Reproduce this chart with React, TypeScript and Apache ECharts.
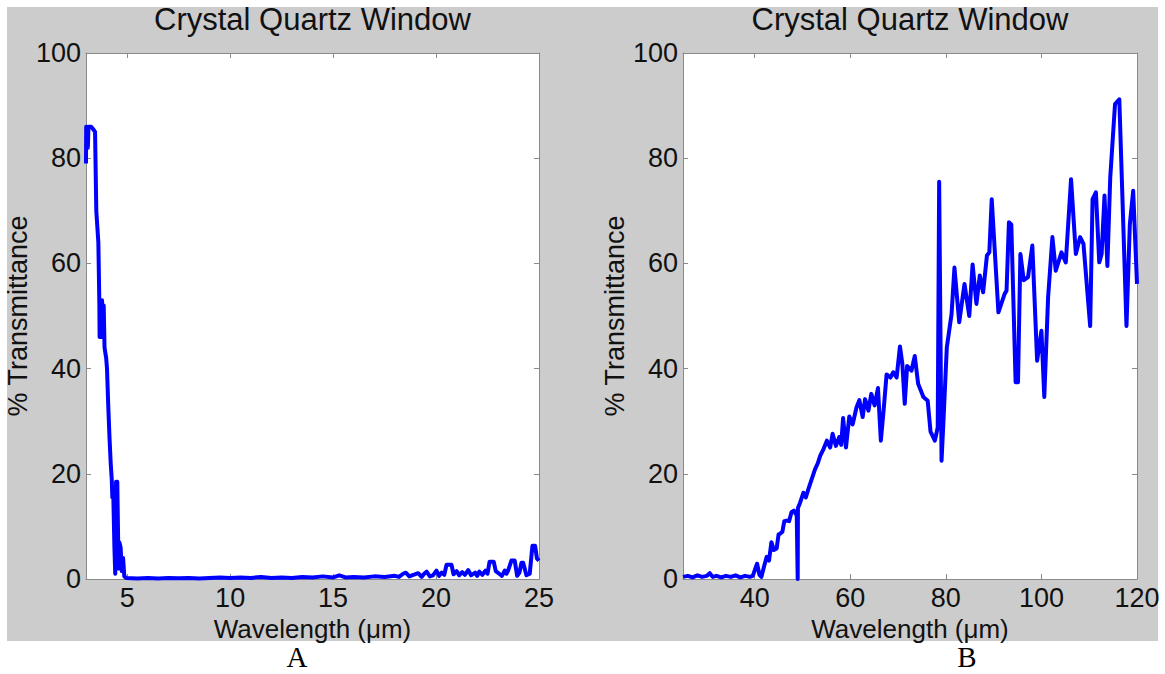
import React, { useEffect, useRef } from "react";
import * as echarts from "echarts";

// ---------- Data ----------
const panelTitles = ["Crystal Quartz Window", "Crystal Quartz Window"];
const panelLetters = ["A", "B"];
const xAxisName = "Wavelength (\u03bcm)";
const yAxisName = "% Transmittance";

const xTicksA = [5, 10, 15, 20, 25];
const xTicksB = [40, 60, 80, 100, 120];
const yTicks = [0, 20, 40, 60, 80, 100];

// Panel A: wavelength (µm) and % transmittance
const aWave = [
  3.0, 3.01, 3.06, 3.09, 3.12, 3.25, 3.35, 3.44, 3.5, 3.55, 3.6, 3.65, 3.66, 3.7, 3.74, 3.78, 3.82, 3.86,
  3.9, 3.94, 3.98, 4.02, 4.08, 4.14, 4.2, 4.25, 4.28, 4.32, 4.38, 4.42, 4.46, 4.52, 4.58, 4.62, 4.68, 4.74,
  4.8, 4.86, 4.95,
  5.5, 6.0, 6.5, 7.0, 7.5, 8.0, 8.5, 9.0, 9.5, 10.0, 10.5, 11.0, 11.5, 12.0, 12.5, 13.0, 13.5, 14.0, 14.5,
  15.0, 15.3, 15.6, 16.0, 16.5, 17.0, 17.5, 18.0,
  18.2, 18.4, 18.53, 18.7, 18.9, 19.13, 19.3, 19.4, 19.54, 19.7, 19.85, 20.02, 20.15, 20.27, 20.4, 20.51,
  20.75, 20.85, 21.0, 21.12, 21.27, 21.4, 21.56, 21.7, 21.9, 22.0, 22.1, 22.25, 22.4, 22.5, 22.6, 22.8,
  22.9, 23.1, 23.2, 23.34, 23.42, 23.5, 23.66, 23.82, 23.94, 24.05, 24.15, 24.23, 24.39, 24.55, 24.68,
  24.81, 24.9, 25.0,
];
const aTrans = [
  79, 86, 86, 82, 86, 86, 85.5, 85, 70, 67, 64, 52, 46, 53, 46, 53, 48, 52,
  44, 43, 42, 40, 33, 27, 22, 19, 15.5, 17, 6, 1, 18.5, 18.5, 2, 7, 6, 1.5,
  4, 0.5, 0.2,
  0.1, 0.2, 0.1, 0.2, 0.15, 0.2, 0.1, 0.2, 0.3, 0.2, 0.3, 0.2, 0.4, 0.2, 0.3, 0.2, 0.4, 0.3, 0.5,
  0.3, 0.7, 0.3, 0.4, 0.3, 0.5, 0.4, 0.6,
  0.4, 1.0, 1.2, 0.5, 0.8, 1.1, 0.4, 0.9, 1.4, 0.5, 0.7, 1.6, 0.6, 1.2, 0.8, 2.7,
  2.7, 0.9, 1.5, 0.7, 1.3, 0.8, 1.7, 0.7, 1.2, 0.6, 1.4, 0.8, 1.6, 1.0, 3.3, 3.3,
  1.5, 0.9, 0.6, 1.6, 1.0, 1.6, 3.5, 3.5, 0.6, 1.2, 3.1, 3.1, 0.7, 1.0, 6.3,
  6.3, 3.9, 3.5,
];

// Panel B: wavelength (µm) and % transmittance
const bWave = [
  25, 26, 27, 28, 29, 30, 30.6, 31.2, 32, 33, 34, 35, 36, 37, 38, 39, 39.6, 40.5, 41.0, 41.4, 42.0, 42.5,
  43.0, 43.5, 44.0, 44.6, 45.0, 45.3, 45.8, 46.2, 46.7, 47.2, 47.7, 48.2, 48.8, 49.0, 49.05, 49.5, 50.2,
  50.7, 51.2, 51.9, 52.6, 53.2, 53.7, 54.4, 55.1, 55.8, 56.3, 57.0, 57.7, 58.1, 58.5, 59.1, 59.8, 60.5,
  61.3, 61.9, 62.6, 63.1, 63.8, 64.4, 65.1, 65.8, 66.4, 67.0, 67.6, 68.4, 69.0, 69.7, 70.4, 70.9, 71.4,
  71.9, 72.8, 73.5, 74.2, 75.3, 76.2, 76.8, 77.7, 78.3, 78.6, 79.1, 79.5, 80.2, 81.2, 81.8, 82.8, 83.9,
  84.9, 85.6, 86.4, 87.1, 87.8, 88.6, 89.1, 89.6, 91.0, 92.3, 92.7, 93.2, 93.7, 94.6, 95.1, 95.6, 96.3,
  97.2, 98.1, 99.1, 100.0, 100.6, 101.4, 102.3, 103.0, 104.2, 105.1, 106.2, 107.2, 108.1, 108.8, 110.2,
  110.7, 111.4, 112.1, 112.6, 113.2, 113.8, 114.4, 115.4, 116.3, 117.8, 118.5, 119.2, 120,
];
const bTrans = [
  0.4, 0.6, 0.3, 0.7, 0.4, 0.6, 1.1, 0.4, 0.6, 0.3, 0.6, 0.4, 0.7, 0.3, 0.6, 0.4, 0.6, 2.9, 0.8, 0.4, 2.5, 4.2,
  3.5, 7.0, 5.5, 5.8, 8.5, 8.6, 9.0, 11.0, 11.1, 11.0, 12.7, 13.0, 12.1, 0, 13.5, 14.5, 16.4,
  15.5, 17.0, 18.9, 20.8, 22.0, 23.4, 24.7, 26.3, 25.0, 27.6, 25.3, 27.0, 25.5, 30.6, 25.0, 30.9, 29.4,
  32.6, 34.0, 30.8, 34.2, 32.0, 35.2, 33.0, 36.3, 26.3, 32.3, 38.9, 38.3, 39.3, 38.3, 44.2, 40.9, 33.3,
  40.5, 39.6, 42.4, 37.1, 34.6, 33.9, 28.0, 26.3, 28.8, 75.5, 22.5, 30.0, 44.0, 50.4, 59.2, 48.8, 56.1,
  50.0, 59.8, 52.3, 57.7, 54.5, 61.5, 62.1, 72.2, 50.7, 54.2, 54.8, 67.8, 67.4, 37.4, 37.4, 61.8, 56.8,
  57.4, 63.4, 41.5, 47.2, 34.6, 53.6, 65.0, 58.6, 62.1, 60.2, 76.0, 61.8, 65.0, 63.7, 48.1,
  72.2, 73.5, 60.2, 61.8, 72.9, 59.5, 76.3, 90.3, 91.2, 48.1, 67.4, 73.8, 56.1,
];

// ---------- Styling ----------
const FONT = "'Liberation Sans', Arial, Helvetica, sans-serif";
const AXIS_COLOR = "#8a8a8a";
const TEXT_COLOR = "#111111";
const LINE_COLOR = "#0000ff";

export default function App() {
  const ref = useRef<HTMLDivElement>(null);

  useEffect(() => {
    document.body.style.margin = "0";
    if (!ref.current) return;
    const chart = echarts.init(ref.current, null, { renderer: "svg" });

    const grids = [
      { left: 86, top: 53, width: 453, height: 526 },
      { left: 683, top: 53, width: 454, height: 526 },
    ];
    const xRanges = [
      { min: 3, max: 25, ticks: xTicksA },
      { min: 25, max: 120, ticks: xTicksB },
    ];

    const xAxes: any[] = [];
    const yAxes: any[] = [];
    grids.forEach((_, i) => {
      const r = xRanges[i];
      xAxes.push({
        type: "value",
        gridIndex: i,
        position: "bottom",
        min: r.min,
        max: r.max,
        name: xAxisName,
        nameLocation: "middle",
        nameGap: 27,
        nameTextStyle: { fontSize: 26, color: TEXT_COLOR, fontFamily: FONT },
        axisLine: { show: true, onZero: false, lineStyle: { color: AXIS_COLOR, width: 1 } },
        axisTick: { show: true, inside: true, length: 5, customValues: r.ticks, lineStyle: { color: AXIS_COLOR } },
        axisLabel: {
          show: true,
          customValues: r.ticks,
          fontSize: 27,
          color: TEXT_COLOR,
          fontFamily: FONT,
          margin: 5,
        },
        splitLine: { show: false },
      });
      xAxes.push({
        type: "value",
        gridIndex: i,
        position: "top",
        min: r.min,
        max: r.max,
        axisLine: { show: true, onZero: false, lineStyle: { color: AXIS_COLOR, width: 1 } },
        axisTick: { show: true, inside: true, length: 5, customValues: r.ticks, lineStyle: { color: AXIS_COLOR } },
        axisLabel: { show: false },
        splitLine: { show: false },
      });
      yAxes.push({
        type: "value",
        gridIndex: i,
        position: "left",
        min: yTicks[0],
        max: yTicks[yTicks.length - 1],
        interval: 20,
        name: yAxisName,
        nameLocation: "middle",
        nameGap: 55,
        nameRotate: 90,
        nameTextStyle: { fontSize: 27, color: TEXT_COLOR, fontFamily: FONT },
        axisLine: { show: true, onZero: false, lineStyle: { color: AXIS_COLOR, width: 1 } },
        axisTick: { show: true, inside: true, length: 5, lineStyle: { color: AXIS_COLOR } },
        axisLabel: { fontSize: 27, color: TEXT_COLOR, fontFamily: FONT, margin: 5 },
        splitLine: { show: false },
      });
      yAxes.push({
        type: "value",
        gridIndex: i,
        position: "right",
        min: yTicks[0],
        max: yTicks[yTicks.length - 1],
        interval: 20,
        axisLine: { show: true, onZero: false, lineStyle: { color: AXIS_COLOR, width: 1 } },
        axisTick: { show: true, inside: true, length: 5, lineStyle: { color: AXIS_COLOR } },
        axisLabel: { show: false },
        splitLine: { show: false },
      });
    });

    const option: any = {
      animation: false,
      backgroundColor: "transparent",
      title: grids.map((g, i) => ({
        text: panelTitles[i],
        left: g.left + g.width / 2,
        top: 4,
        textAlign: "center",
        padding: 0,
        textStyle: { fontSize: 31, fontWeight: "normal", color: TEXT_COLOR, fontFamily: FONT },
      })),
      grid: grids.map((g) => ({
        ...g,
        show: true,
        backgroundColor: "#ffffff",
        borderWidth: 0,
        containLabel: false,
        outerBoundsMode: "none",
      })),
      xAxis: xAxes,
      yAxis: yAxes,
      graphic: panelLetters.map((t, i) => ({
        type: "text",
        x: i === 0 ? 297 : 967,
        y: 657,
        style: {
          text: t,
          fontSize: 29,
          fontFamily: "'Liberation Serif', 'Times New Roman', serif",
          fill: "#000",
          align: "center",
          verticalAlign: "middle",
        },
      })),
      series: [
        {
          type: "line",
          xAxisIndex: 0,
          yAxisIndex: 0,
          data: aWave.map((w, k) => [w, aTrans[k]]),
          showSymbol: false,
          symbol: "none",
          lineStyle: { color: LINE_COLOR, width: 4, join: "round" },
          clip: true,
        },
        {
          type: "line",
          xAxisIndex: 2,
          yAxisIndex: 2,
          data: bWave.map((w, k) => [w, bTrans[k]]),
          showSymbol: false,
          symbol: "none",
          lineStyle: { color: LINE_COLOR, width: 4, join: "round" },
          clip: true,
        },
      ],
    };
    chart.setOption(option);
    return () => chart.dispose();
  }, []);

  return (
    <div style={{ position: "relative", width: 1165, height: 674, background: "#ffffff" }}>
      <div
        style={{ position: "absolute", left: 7, top: 7, width: 1151, height: 634, background: "#cccccc" }}
      />
      <div ref={ref} style={{ position: "absolute", left: 0, top: 0, width: 1165, height: 674 }} />
    </div>
  );
}
